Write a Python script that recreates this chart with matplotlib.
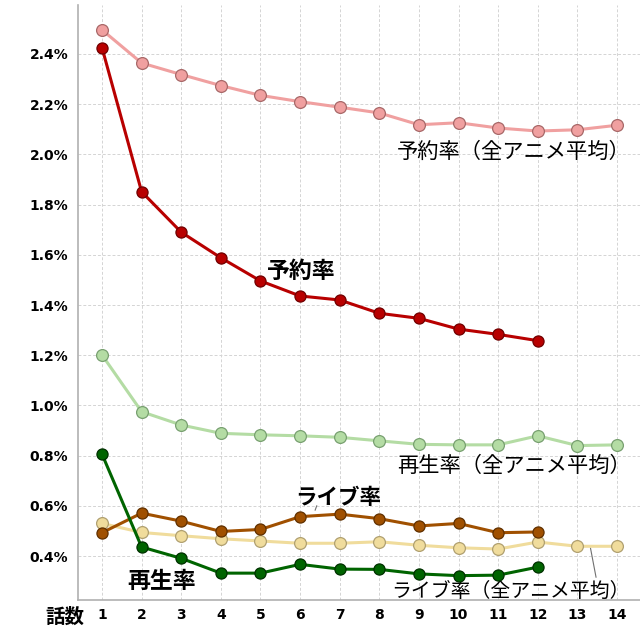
import matplotlib
matplotlib.use('Agg')
import matplotlib.pyplot as plt
from matplotlib.ticker import FuncFormatter

plt.rcParams['font.family'] = ['Noto Sans CJK JP', 'DejaVu Sans']

# data (percent)
ep_all = [1, 2, 3, 4, 5, 6, 7, 8, 9, 10, 11, 12, 13, 14]
ep = [1, 2, 3, 4, 5, 6, 7, 8, 9, 10, 11, 12]

yoyaku = [2.425, 1.851, 1.69, 1.588, 1.496, 1.436, 1.42, 1.367, 1.347, 1.304, 1.283, 1.258]
yoyaku_avg = [2.496, 2.364, 2.318, 2.274, 2.235, 2.21, 2.188, 2.165, 2.118, 2.126, 2.105, 2.093, 2.098, 2.116]
saisei = [0.806, 0.436, 0.391, 0.332, 0.332, 0.367, 0.348, 0.347, 0.329, 0.322, 0.324, 0.356]
saisei_avg = [1.201, 0.975, 0.922, 0.889, 0.883, 0.879, 0.873, 0.859, 0.845, 0.843, 0.843, 0.879, 0.84, 0.843]
live = [0.493, 0.571, 0.539, 0.498, 0.506, 0.557, 0.567, 0.549, 0.52, 0.53, 0.493, 0.496]
live_avg = [0.53, 0.494, 0.481, 0.469, 0.46, 0.451, 0.451, 0.457, 0.443, 0.433, 0.428, 0.456, 0.439, 0.439]

yticks = [0.4, 0.6, 0.8, 1.0, 1.2, 1.4, 1.6, 1.8, 2.0, 2.2, 2.4]

fig = plt.figure(figsize=(6.4, 6.4), dpi=100)
ax = fig.add_axes([78/640, 40/640, 562/640, 595/640])

# averages first (behind)
ax.plot(ep_all, yoyaku_avg, color='#f0a0a0', lw=2.2, marker='o', ms=8.5,
        mfc='#f0a0a0', mec='#a86868', mew=0.9, zorder=3)
ax.plot(ep_all, saisei_avg, color='#b4dca4', lw=2.2, marker='o', ms=8.5,
        mfc='#b4dca4', mec='#78a070', mew=0.9, zorder=3)
ax.plot(ep_all, live_avg, color='#f0dc9c', lw=2.2, marker='o', ms=8.5,
        mfc='#f0dc9c', mec='#b0a070', mew=0.9, zorder=3)

ax.plot(ep, yoyaku, color='#b80000', lw=2.2, marker='o', ms=8,
        mfc='#b80000', mec='#700000', mew=0.9, zorder=4)
ax.plot(ep, live, color='#a05000', lw=2.2, marker='o', ms=8,
        mfc='#a05000', mec='#603000', mew=0.9, zorder=4)
ax.plot(ep, saisei, color='#006400', lw=2.2, marker='o', ms=8,
        mfc='#006400', mec='#003000', mew=0.9, zorder=4)

ax.set_xlim(0.394, 14.58)
ax.set_ylim(0.225, 2.595)
ax.set_xticks(ep_all)
ax.set_yticks(yticks)
ax.yaxis.set_major_formatter(FuncFormatter(lambda v, p: '%.1f%%' % v))

for lab in ax.get_xticklabels() + ax.get_yticklabels():
    lab.set_fontfamily('DejaVu Sans')
    lab.set_fontweight('bold')
    lab.set_fontsize(10)
ax.tick_params(length=0)
ax.tick_params(axis='x', pad=6)
ax.tick_params(axis='y', pad=7)

ax.grid(True, color='#d4d4d4', lw=0.7, ls=(0, (3, 2)))
ax.set_axisbelow(True)
for s in ['top', 'right']:
    ax.spines[s].set_visible(False)
for s in ['left', 'bottom']:
    ax.spines[s].set_color('#b0b0b0')
    ax.spines[s].set_linewidth(1.2)

# labels
ax.text(14.35, 2.008, '予約率（全アニメ平均）', fontsize=15.3, ha='right', va='center')
ax.text(5.17, 1.533, '予約率', fontsize=16.5, fontweight='bold', ha='left', va='center')
ax.text(14.35, 0.757, '再生率（全アニメ平均）', fontsize=15.3, ha='right', va='center')
ax.text(5.88, 0.635, 'ライブ率', fontsize=15.5, fontweight='bold', ha='left', va='center')
ax.text(1.65, 0.298, '再生率', fontsize=16.5, fontweight='bold', ha='left', va='center')
ax.text(14.33, 0.258, 'ライブ率（全アニメ平均）', fontsize=14.3, ha='right', va='center')

ax.plot([6.38, 6.42], [0.583, 0.6], color='#707070', lw=0.8)
ax.plot([13.33, 13.47], [0.432, 0.316], color='#707070', lw=0.8)

fig.text(65/640, 1 - 617/640, '話数', fontsize=14, fontweight='bold', ha='center', va='center')

fig.savefig('out.png', dpi=100)
